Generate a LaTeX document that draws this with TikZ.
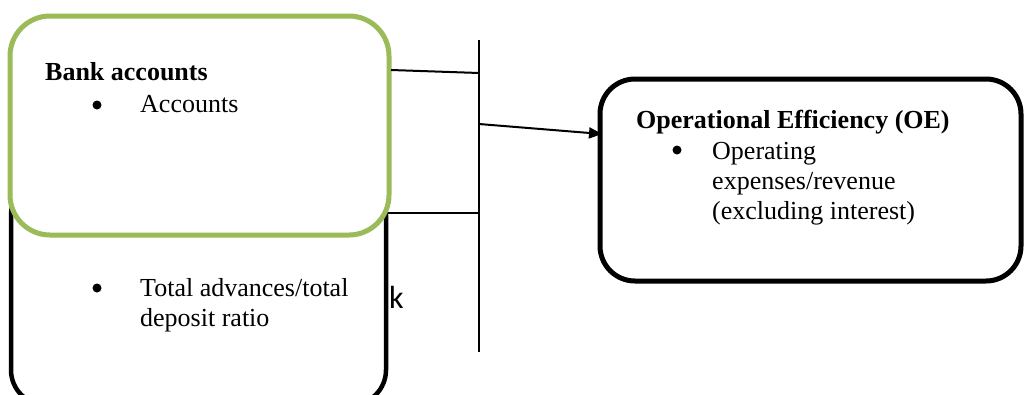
\documentclass[tikz,border=0pt]{standalone}
\usepackage{fontspec}
\setmainfont{Liberation Serif}
\newfontfamily\kfont{Carlito}
\usetikzlibrary{arrows.meta}
\definecolor{olivegreen}{HTML}{9BBB59}
\tikzset{
  boxshape/.style={rectangle, rounded corners=#1, fill=white, inner sep=0pt, outer sep=0pt},
  txt/.style={anchor=base west, inner sep=0pt, font=\fontsize{26}{30}\selectfont},
  bold/.style={txt, font=\fontsize{26}{30}\selectfont\bfseries},
  bul/.style={circle, fill=black, inner sep=0pt, minimum size=9pt},
  thin/.style={line width=2pt, draw=black},
}
\begin{document}
\begin{tikzpicture}[x=1pt,y=-1pt]
\useasboundingbox (0,0) rectangle (1025,394);
% back black box
\node[boxshape=35pt, draw=black, line width=4.5pt, minimum width=375pt, minimum height=225pt] (liq) at (198.5,292.5) {};
% green box
\node[boxshape=40pt, draw=olivegreen, line width=5pt, minimum width=379pt, minimum height=219pt] (bank) at (199.5,125.5) {};
% right box
\node[boxshape=35pt, draw=black, line width=5pt, minimum width=421pt, minimum height=202pt] (oe) at (810.5,180) {};

% texts in green box
\node[bold] (bankt) at (45,80) {Bank accounts};
\node[bul] (bul1) at (97,105) {};
\node[txt] (acc) at (140,112) {Accounts};

% texts in black box
\node[bul] (bul2) at (97,288) {};
\node[txt] (tad1) at (140,296) {Total advances/total};
\node[txt] (tad2) at (140,326) {deposit ratio};
\node[anchor=base west, inner sep=0pt, font=\kfont\fontsize{32}{34}\selectfont] (kk) at (389,308) {k};

% texts in right box
\node[bold] (oet) at (636,128) {Operational Efficiency (OE)};
\node[bul] (bul3) at (677,150) {};
\node[txt] (op1) at (712,159) {Operating};
\node[txt] (op2) at (712,189) {expenses/revenue};
\node[txt] (op3) at (712,219) {(excluding interest)};

% connectors
\coordinate (vt) at (479,40);
\coordinate (vb) at (479,352);
\coordinate (j1) at (479,73);
\coordinate (j2) at (479,124);
\coordinate (j3) at (478,213);
\coordinate (b1) at (391,70);
\coordinate (b3) at (388,213);
\coordinate (tip) at (602,134);
\draw[thin] (vt) -- (vb);
\draw[thin] (b1) -- (j1);
\draw[thin] (b3) -- (j3);
\draw[thin, -{Triangle[length=13pt,width=11pt]}] (j2) -- (tip);
\end{tikzpicture}
\end{document}
